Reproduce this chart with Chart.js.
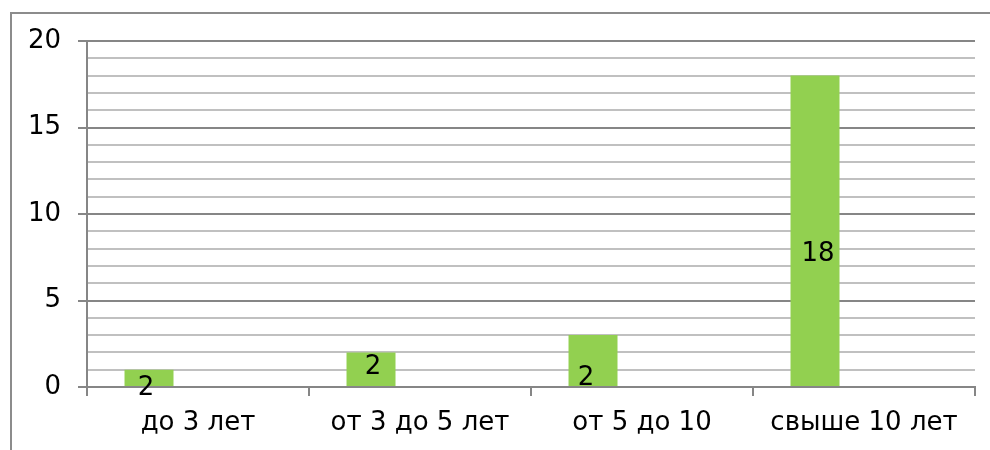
<!DOCTYPE html>
<html>
<head>
<meta charset="utf-8">
<script src="https://cdn.jsdelivr.net/npm/chart.js@4.4.0/dist/chart.umd.min.js"></script>
<style>
  html, body { margin: 0; padding: 0; background: #fff; }
  #wrap { position: relative; width: 990px; height: 450px; }
  #frame { position: absolute; left: 10px; top: 12px; width: 1000px; height: 460px; border: 2px solid #8c8c8c; box-sizing: border-box; }
  canvas { position: absolute; left: 0; top: 0; }
</style>
</head>
<body>
<div id="wrap">
  <div id="frame"></div>
  <canvas id="chart" width="990" height="450"></canvas>
</div>
<script>
// categories and values
var categories = ['до 3 лет', 'от 3 до 5 лет', 'от 5 до 10', 'свыше 10 лет'];
var seriesValues = [1, 2, 3, 18];
var barLabels = ['2', '2', '2', '18'];   // labels as printed on the bars
var emptySeries = [];                    // two unused series slots keep the bars left in each group
var yTicks = [0, 5, 10, 15, 20];

var FONT = 'DejaVu Sans, Verdana, sans-serif';
var MAJOR = '#868686';
var MINOR = '#c0c0c0';

// draws the bar labels
var barLabelPlugin = {
  id: 'barLabels',
  afterDatasetsDraw: function (chart, args, opts) {
    var ctx = chart.ctx;
    var meta = chart.getDatasetMeta(0);
    var y = chart.scales.y;
    ctx.save();
    ctx.font = '26px ' + FONT;
    ctx.fillStyle = '#000';
    ctx.textAlign = 'center';
    ctx.textBaseline = 'middle';
    meta.data.forEach(function (bar, i) {
      ctx.fillText(barLabels[i], bar.x + opts.dx[i], y.getPixelForValue(opts.at[i]));
    });
    ctx.restore();
  }
};

new Chart(document.getElementById('chart').getContext('2d'), {
  type: 'bar',
  data: {
    labels: categories,
    datasets: [
      { data: seriesValues, backgroundColor: '#92d050' },
      { data: emptySeries },
      { data: emptySeries }
    ]
  },
  plugins: [barLabelPlugin],
  options: {
    responsive: false,
    animation: false,
    events: [],
    categoryPercentage: 0.662,
    barPercentage: 1,
    layout: { padding: { left: 10, top: 41, right: 15, bottom: 0 } },
    plugins: {
      legend: { display: false },
      tooltip: { enabled: false },
      barLabels: { at: [-0.05, 1.16, 0.52, 7.69], dx: [-3, 2, -7, 3] }
    },
    scales: {
      x: {
        grid: { drawOnChartArea: false, tickLength: 9, color: MAJOR, lineWidth: 2 },
        border: { color: MAJOR, width: 2 },
        ticks: { color: '#000', font: { family: FONT, size: 26 }, padding: 12, maxRotation: 0 },
        afterFit: function (s) { s.height = 450 - 387; }
      },
      y: {
        min: 0, max: 20,
        grid: {
          tickLength: 9,
          lineWidth: 2,
          color: function (c) { return c.tick.value % 5 === 0 ? MAJOR : MINOR; },
          tickColor: function (c) { return c.tick.value % 5 === 0 ? MAJOR : 'rgba(0,0,0,0)'; }
        },
        border: { color: MAJOR, width: 2 },
        ticks: {
          stepSize: 1, autoSkip: false, color: '#000', padding: 17,
          font: { family: FONT, size: 26 },
          callback: function (v) { return yTicks.indexOf(v) >= 0 ? v : ''; }
        },
        afterFit: function (s) { s.width = 87 - 10; }
      }
    }
  }
});
</script>
</body>
</html>
